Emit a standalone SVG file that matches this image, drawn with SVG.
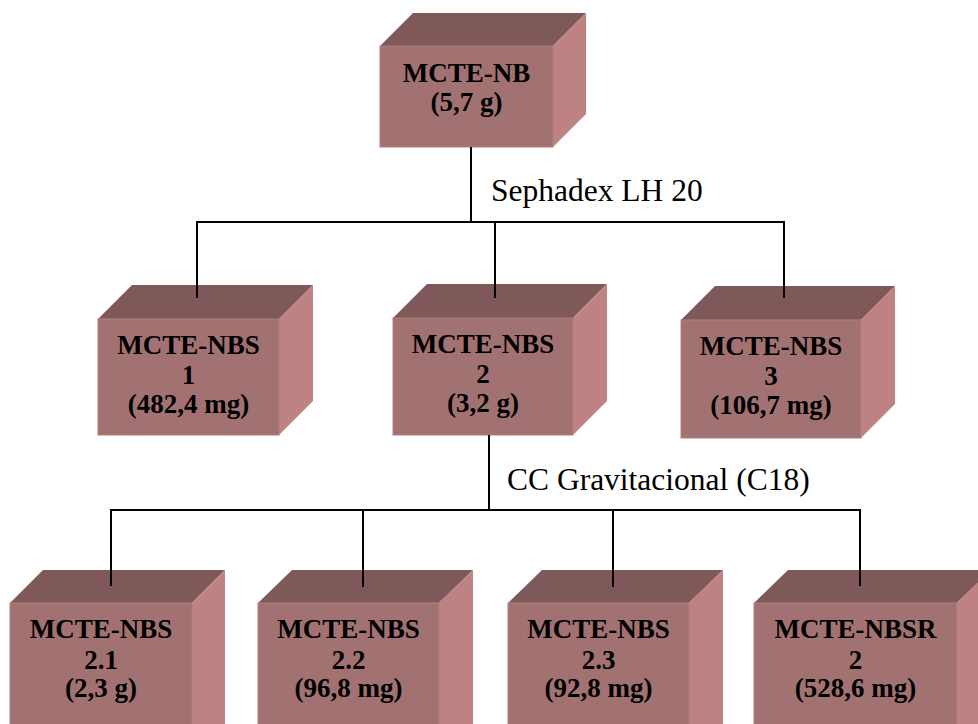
<svg xmlns="http://www.w3.org/2000/svg" width="978" height="724" viewBox="0 0 978 724">
  <style>
    .front { fill: #A27272; stroke: #B27E7E; stroke-width: 1; }
    .top { fill: #7F5959; }
    .side { fill: #BF8282; }
    .lbl { font-family: "Liberation Serif", "Times New Roman", serif; font-weight: bold; font-size: 27px; fill: #000; text-anchor: middle; }
    .step { font-family: "Liberation Serif", "Times New Roman", serif; font-size: 31.5px; fill: #000; }
    .conn { fill: none; stroke: #000; stroke-width: 2; }
  </style>

  <!-- Root extract -->
  <g id="mcte-nb">
    <polygon class="top" points="380,46 413,13 586,13 553,46"/>
    <polygon class="side" points="553,46 586,13 586,114 553,147"/>
    <rect class="front" x="380" y="46" width="173" height="101"/>
    <text class="lbl" x="466.5" y="82">MCTE-NB</text>
    <text class="lbl" x="466.5" y="111">(5,7 g)</text>
  </g>

  <!-- Sephadex fractions -->
  <g id="mcte-nbs-1">
    <polygon class="top" points="98,319 132,285 313,285 279,319"/>
    <polygon class="side" points="279,319 313,285 313,401 279,435"/>
    <rect class="front" x="98" y="319" width="181" height="116"/>
    <text class="lbl" x="188.5" y="354">MCTE-NBS</text>
    <text class="lbl" x="188.5" y="384">1</text>
    <text class="lbl" x="188.5" y="413">(482,4 mg)</text>
  </g>

  <g id="mcte-nbs-2">
    <polygon class="top" points="393,318 427,284 607,284 573,318"/>
    <polygon class="side" points="573,318 607,284 607,401 573,435"/>
    <rect class="front" x="393" y="318" width="180" height="117"/>
    <text class="lbl" x="483" y="353">MCTE-NBS</text>
    <text class="lbl" x="483" y="383">2</text>
    <text class="lbl" x="483" y="412">(3,2 g)</text>
  </g>

  <g id="mcte-nbs-3">
    <polygon class="top" points="681,320 715,286 895,286 861,320"/>
    <polygon class="side" points="861,320 895,286 895,404 861,438"/>
    <rect class="front" x="681" y="320" width="180" height="118"/>
    <text class="lbl" x="771" y="355">MCTE-NBS</text>
    <text class="lbl" x="771" y="385">3</text>
    <text class="lbl" x="771" y="414">(106,7 mg)</text>
  </g>

  <!-- C18 column fractions -->
  <g id="mcte-nbs-2-1">
    <polygon class="top" points="10,603 43,570 225,570 192,603"/>
    <polygon class="side" points="192,603 225,570 225,724 192,724"/>
    <rect class="front" x="10" y="603" width="182" height="125"/>
    <text class="lbl" x="101" y="638">MCTE-NBS</text>
    <text class="lbl" x="101" y="669">2.1</text>
    <text class="lbl" x="101" y="697">(2,3 g)</text>
  </g>

  <g id="mcte-nbs-2-2">
    <polygon class="top" points="258,603 292,570 473,570 439,603"/>
    <polygon class="side" points="439,603 473,570 473,724 439,724"/>
    <rect class="front" x="258" y="603" width="181" height="125"/>
    <text class="lbl" x="348.5" y="638">MCTE-NBS</text>
    <text class="lbl" x="348.5" y="669">2.2</text>
    <text class="lbl" x="348.5" y="697">(96,8 mg)</text>
  </g>

  <g id="mcte-nbs-2-3">
    <polygon class="top" points="508,603 542,570 723,570 689,603"/>
    <polygon class="side" points="689,603 723,570 723,724 689,724"/>
    <rect class="front" x="508" y="603" width="181" height="125"/>
    <text class="lbl" x="598.5" y="638">MCTE-NBS</text>
    <text class="lbl" x="598.5" y="669">2.3</text>
    <text class="lbl" x="598.5" y="697">(92,8 mg)</text>
  </g>

  <g id="mcte-nbsr-2">
    <polygon class="top" points="754,603 788,570 991,570 957,603"/>
    <polygon class="side" points="957,603 991,570 991,724 957,724"/>
    <rect class="front" x="754" y="603" width="203" height="125"/>
    <text class="lbl" x="855.5" y="638">MCTE-NBSR</text>
    <text class="lbl" x="855.5" y="669">2</text>
    <text class="lbl" x="855.5" y="697">(528,6 mg)</text>
  </g>

  <!-- Connectors -->
  <g id="connectors">
    <path class="conn" d="M471,147 V222"/>
    <path class="conn" d="M197,298 V222 H784 V298"/>
    <path class="conn" d="M495,222 V298"/>
    <path class="conn" d="M489,435 V510"/>
    <path class="conn" d="M111,586 V510 H860 V586"/>
    <path class="conn" d="M363,510 V587"/>
    <path class="conn" d="M613,510 V587"/>
  </g>

  <!-- Separation step labels -->
  <g id="steps">
    <text class="step" x="491" y="201">Sephadex LH 20</text>
    <text class="step" x="507" y="490">CC Gravitacional (C18)</text>
  </g>
</svg>
